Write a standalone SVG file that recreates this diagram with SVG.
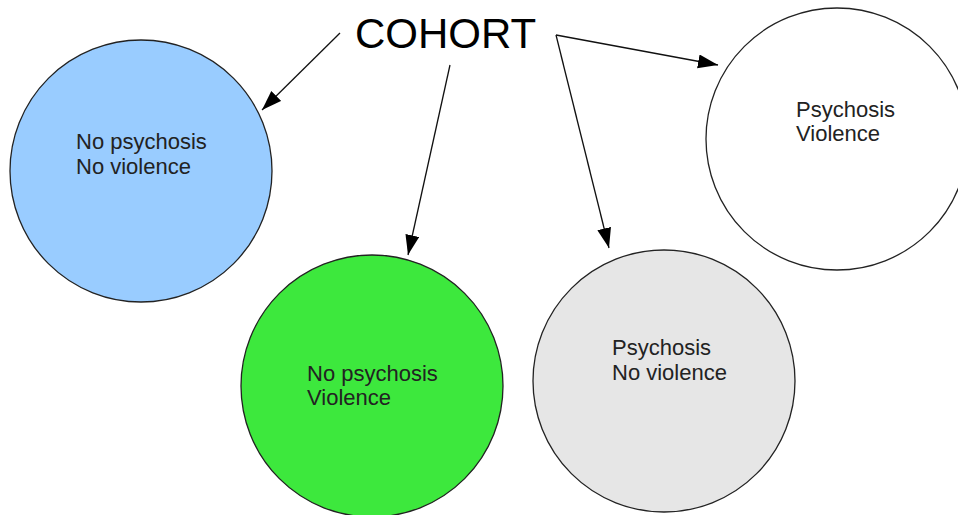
<svg xmlns="http://www.w3.org/2000/svg" width="958" height="515" viewBox="0 0 958 515">
<defs>
<marker id="arr" markerUnits="userSpaceOnUse" markerWidth="22" markerHeight="16" refX="20" refY="7" orient="auto">
<path d="M0,0 L20,7 L0,14 z" fill="#000"/>
</marker>
<style>
.c{stroke:#222;stroke-width:1.3}
.t{font-family:"Liberation Sans",Arial,sans-serif;font-size:22px;fill:#222}
.e{stroke:#111;stroke-width:1.3;fill:none;marker-end:url(#arr)}
</style>
</defs>
<rect width="958" height="515" fill="#fff"/>
<g id="cohort">
<text x="355" y="48" font-family="Liberation Sans, Arial, sans-serif" font-size="42" fill="#000">COHORT</text>
</g>
<g id="connectors">
<line class="e" x1="340" y1="33" x2="262" y2="110"/>
<line class="e" x1="450" y1="65" x2="408" y2="255"/>
<line class="e" x1="556" y1="35" x2="609" y2="248"/>
<line class="e" x1="556" y1="35" x2="718" y2="65"/>
</g>
<g id="n-nopsy-noviol">
<circle class="c" cx="141" cy="171" r="131" fill="#99ccff"/>
<text class="t" x="76" y="149">No psychosis</text>
<text class="t" x="76" y="174">No violence</text>
</g>
<g id="n-nopsy-viol">
<circle class="c" cx="372" cy="386" r="131" fill="#3de83d"/>
<text class="t" x="307" y="381">No psychosis</text>
<text class="t" x="307" y="405">Violence</text>
</g>
<g id="n-psy-noviol">
<circle class="c" cx="664" cy="381" r="131" fill="#e6e6e6"/>
<text class="t" x="612" y="355">Psychosis</text>
<text class="t" x="612" y="380">No violence</text>
</g>
<g id="n-psy-viol">
<circle class="c" cx="837" cy="139" r="131" fill="#fff"/>
<text class="t" x="796" y="117">Psychosis</text>
<text class="t" x="796" y="141">Violence</text>
</g>
</svg>
